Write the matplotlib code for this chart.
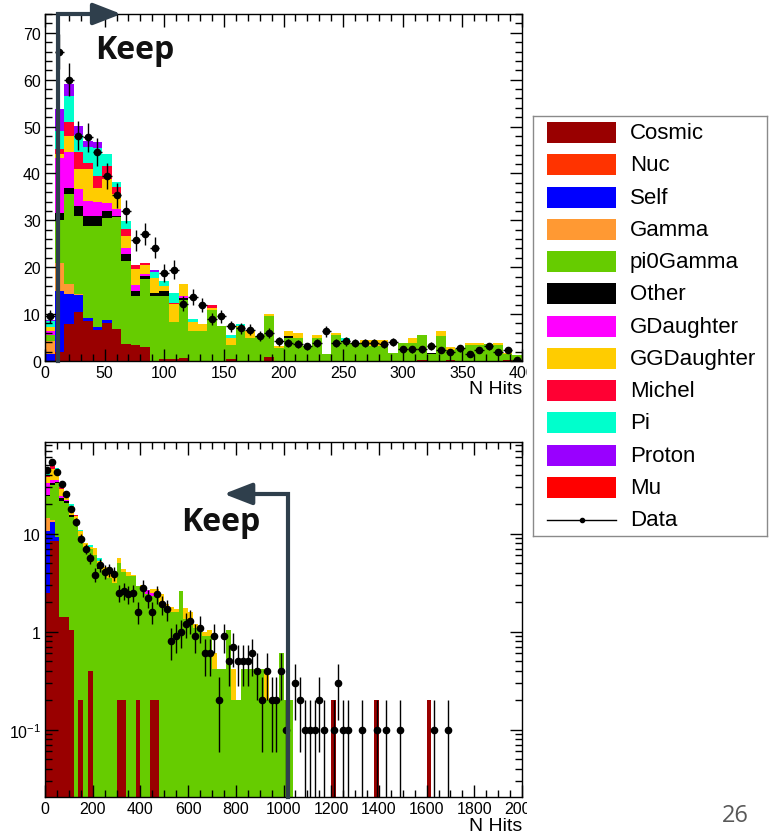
import numpy as np
import matplotlib
matplotlib.use("Agg")
import matplotlib.pyplot as plt
from matplotlib.patches import Rectangle
from matplotlib.ticker import MultipleLocator, FixedLocator, LogLocator, NullFormatter

plt.rcParams['font.family'] = ['Liberation Sans', 'DejaVu Sans']
plt.rcParams['mathtext.fontset'] = 'custom'
plt.rcParams['mathtext.rm'] = 'Liberation Sans'

names = ["Cosmic", "Nuc", "Self", "Gamma", "pi0Gamma", "Other", "GDaughter",
         "GGDaughter", "Michel", "Pi", "Proton", "Mu"]
colors = ["#990000", "#ff3300", "#0000ff", "#ff9933", "#66cc00", "#000000",
          "#ff00ff", "#ffcc00", "#ff0033", "#00ffcc", "#9900ff", "#ff0000"]

# ---- top panel: 50 bins of 8 hits (0-400) ----
nbin_top, w_top = 50, 8
cosmic_t = [0, 2, 7.9, 10.4, 8.6, 6.7, 8.2, 6.8, 3.6, 3.5, 3.0, 0, 0.4, 0.4, 0.7,
            0, 0, 0, 0, 0.4, 0, 0, 0, 0.85, 0, 0, 0, 0, 0, 0, 0, 0, 0, 0, 0,
            0, 0, 0, 0, 0.3, 0, 0, 0.3, 0, 0, 0, 0, 0, 0.3, 0]
nuc_t = []
self_t = [1.5, 13, 6.4, 3.6, 0.6, 0.5, 0.6]
gamma_t = [2.8, 6, 2.1, 0.3]
pi0_t = [1.2, 9, 19.2, 16.7, 19.6, 21.6, 21.8, 23.9, 17.8, 10.4,
         14.5, 13.9, 13.5, 8.0, 12.3, 6.5, 6.5, 10.9, 7.5, 3.0,
         7.2, 5.0, 5.3, 8.65, 2.8, 5.0, 4.9, 3.2, 5.0, 1.4,
         5.5, 4.0, 3.9, 3.9, 3.3, 3.3, 1.8, 3.9, 3.8, 5.2,
         1.5, 5.4, 2.1, 2.5, 3.5, 3.5, 3.6, 3.4, 1.2, 1.2]
other_t = [0, 1.5, 1.4, 2.1, 2.2, 2.2, 1.4, 0.3, 1.4, 1.1, 0.7, 0.7, 1.1, 0, 0.5,
           0, 0, 0, 0, 0, 0, 0, 0, 0, 0, 0.3, 0, 0, 0, 0, 0, 0.3, 0, 0, 0,
           0, 0, 0, 0, 0, 0.3]
gd_t = [0.8, 11.8, 7.5, 3.6, 3.2, 3.0, 1.8, 1.4, 1.4, 1.2, 0.3, 0, 0, 0, 0.4]
ggd_t = [1.0, 0.8, 3.5, 4.2, 6.7, 3.0, 5.0, 3.2, 2.4, 3.4,
         2.0, 3.1, 1.0, 3.7, 2.5, 1.9, 1.4, 0.5, 0, 1.5,
         0.2, 1.5, 0, 0.5, 0.5, 1.2, 1.1, 0, 0.5, 0,
         0.4, 0, 0, 0.5, 1.1, 1.1, 0, 0, 1.0, 0,
         0, 1.1, 0.5, 0, 0.4, 0.4, 0, 0.5, 0.3, 0]
michel_t = [0, 1.1, 2.9, 3.6, 1.4, 2.5, 2.8, 1.6, 1.5, 0.9, 0.4, 0, 0, 0.3, 0, 0, 0, 0.5]
pi_t = [1.2, 3.9, 5.7, 3.7, 3.3, 6.0, 2.5, 0.9, 1.8, 0, 0, 1.3, 1.1, 2.2, 0, 0.6,
        0, 0, 0, 0.6, 0.5, 0, 0, 0, 0, 0, 0, 0, 0, 0, 0, 0.7]
proton_t = [0.3, 4.6, 2.5, 2.0, 1.4, 1.1, 0, 0, 0, 0, 0, 0.5]
mu_t = []
data_t = [9.5, 66, 60, 48, 47.7, 44.5, 39.5, 35.3, 31.9, 25.7,
          27.1, 24.2, 18.8, 19.5, 12.2, 13.6, 11.9, 9.0, 9.5, 7.4,
          7.0, 6.7, 5.4, 6.0, 4.2, 3.9, 3.6, 3.1, 3.8, 6.3,
          3.9, 4.2, 3.8, 3.9, 3.8, 3.6, 4.1, 2.5, 2.5, 2.5,
          3.2, 2.3, 2.0, 2.7, 1.4, 2.3, 3.1, 1.9, 2.3, 0.3]

# ---- bottom panel: 100 bins of 20 hits (0-2000) ----
nbin_bot, w_bot = 100, 20
cosmic_b = [2.5, 8.5, 8.5, 1.4, 1.4, 1.05, 0, 0.2, 0, 0.4,
            0, 0, 0, 0, 0, 0.2, 0.2, 0, 0, 0.2,
            0, 0, 0.2, 0.2, 0, 0, 0, 0, 0, 0,
            0, 0, 0, 0, 0, 0, 0, 0, 0, 0,
            0, 0, 0, 0, 0, 0, 0, 0, 0, 0,
            0, 0, 0, 0, 0, 0, 0, 0, 0, 0,
            0.2, 0, 0, 0, 0, 0, 0, 0, 0, 0.2,
            0, 0, 0, 0, 0, 0, 0, 0, 0, 0,
            0.2]
nuc_b = []
self_b = [8.1, 4.5, 0.7]
gamma_b = [4.0, 0.9]
pi0_b = [9.4, 17.6, 23.8, 20.3, 19.2, 13.9, 13.0, 9.2, 6.9, 6.5,
         6.1, 4.4, 4.1, 3.5, 3.1, 4.8, 3.9, 3.7, 3.7, 2.7,
         2.9, 2.45, 2.1, 2.3, 2.0, 1.8, 1.6, 1.6, 2.6, 1.35,
         1.35, 1.1, 1.0, 0.9, 0.9, 0.42, 0.42, 0.42, 1.05, 0.2,
         0.2, 0.42, 0.42, 0.42, 0.42, 0.42, 0.2, 0.2, 0.2, 0.6,
         0.2, 0.2]
other_b = [0.5, 1.0, 1.0, 1.2, 0.8, 0.6, 0.3, 0, 0.2, 0, 0, 0.2]
gd_b = [8, 3, 1, 1.5, 0.6, 0, 0, 0, 0, 0, 0, 0, 0, 0, 0, 0, 0, 0, 0, 0, 0, 0.2, 0.2]
ggd_b = [5, 10, 8, 4, 2.8, 3.8, 2.0, 1.2, 0.9, 0.4,
         1.1, 0.7, 0.5, 0.5, 0.5, 0.7, 0.3, 0.4, 0.1, 0,
         0.1, 0, 0.2, 0.2, 0.4, 0.1, 0.2, 0.1, 0, 0.4,
         0.25, 0.1, 0, 0.1, 0.15, 0.18, 0, 0, 0, 0.22,
         0, 0, 0, 0, 0, 0, 0.22]
michel_b = [2.5, 4, 2, 1.2, 0.6, 0, 0.3]
pi_b = [4, 5, 2, 0.8, 0.5, 0.5, 0, 0.4, 0, 0.3, 0, 0.3, 0, 0, 0, 0, 0, 0, 0, 0,
        0, 0, 0, 0, 0, 0, 0, 0, 0, 0, 0, 0, 0.1]
proton_b = [3, 1.5]
mu_b = []
data_b = [45, 53.4, 43, 32.4, 25.6, 18, 13.2, 8.9, 7.0, 5.6,
          3.8, 4.8, 4.1, 4.3, 3.9, 2.5, 2.6, 2.4, 2.5, 1.6,
          2.8, 2.2, 1.6, 2.4, 1.9, 1.7, 0.8, 0.9, 1.0, 1.2,
          1.3, 0.9, 1.1, 0.6, 0.6, 0.9, 0.2, 0.9, 0.5, 0.7,
          0.5, 0.5, 0.5, 0.6, 0.4, 0.2, 0.4, 0.2, 0.2, 0.4,
          0.1, 0, 0.3, 0.2, 0.1, 0.1, 0.1, 0.2, 0.1, 0,
          0.1, 0.3, 0.1, 0.1, 0, 0, 0.1, 0, 0, 0.1,
          0, 0.1, 0, 0, 0.1, 0, 0, 0, 0, 0,
          0, 0.1, 0, 0, 0.1]

cut_top, cut_bot = 11, 1018
arrow_c = "#2f3f4c"


def pad(v, n):
    return np.array(list(v) + [0] * (n - len(v)), dtype=float)


def draw_panel(ax, comps, data, nb, w, scale, floor=0.0):
    edges = np.arange(nb + 1) * w
    cum = np.zeros(nb)
    for v, c in zip(comps, colors):
        v = pad(v, nb)
        top = cum + v
        ax.stairs(np.maximum(top, floor), edges, baseline=np.maximum(cum, floor),
                  fill=True, color=c, lw=0)
        cum = top
    d = pad(data, nb)
    x = edges[:-1] + w / 2
    m = d > 0
    ax.errorbar(x[m], d[m], yerr=np.sqrt(scale * d[m]), xerr=w / 2, fmt='o',
                ms=4.5, color='k', ecolor='k', elinewidth=1, capsize=0, zorder=5)


def style(ax):
    ax.tick_params(which='both', direction='in', top=True, right=True,
                   labelsize=11.5, width=1, pad=3)
    ax.tick_params(which='major', length=9)
    ax.tick_params(which='minor', length=5)
    for s in ax.spines.values():
        s.set_linewidth(1)


fig = plt.figure(figsize=(7.71, 8.37), dpi=100)
W, H = 771, 837

# top panel
ax1 = fig.add_axes([45 / W, 1 - 362 / H, 477 / W, 347 / H])
draw_panel(ax1, [cosmic_t, nuc_t, self_t, gamma_t, pi0_t, other_t, gd_t, ggd_t,
                 michel_t, pi_t, proton_t, mu_t], data_t, nbin_top, w_top, 0.2)
ax1.set_xlim(0, 400)
ax1.set_ylim(0, 74)
ax1.set_xticks(np.arange(0, 401, 50))
ax1.xaxis.set_minor_locator(MultipleLocator(10))
ax1.set_yticks(np.arange(0, 71, 10))
ax1.yaxis.set_minor_locator(MultipleLocator(2))
style(ax1)
ax1.set_xlabel("N Hits", fontsize=14, ha='right')
ax1.xaxis.set_label_coords(1.0, -0.055)
ax1.plot([cut_top, cut_top, 55], [0, 74, 74], color=arrow_c, lw=3,
         clip_on=False, zorder=6, solid_joinstyle='miter')
ax1.annotate('', xy=(64, 74), xytext=(40, 74),
             arrowprops=dict(arrowstyle='-|>,head_length=0.85,head_width=0.33',
                             color=arrow_c, lw=3, shrinkA=0, shrinkB=0,
                             mutation_scale=20), annotation_clip=False, zorder=6)
ax1.text(75, 66.5, "Keep", fontsize=23, fontweight='bold', family='Open Sans',
         ha='center', va='center', color='#111111')

# bottom panel
ax2 = fig.add_axes([45 / W, 1 - 798 / H, 477 / W, 355 / H])
ax2.set_yscale('log')
draw_panel(ax2, [cosmic_b, nuc_b, self_b, gamma_b, pi0_b, other_b, gd_b, ggd_b,
                 michel_b, pi_b, proton_b, mu_b], data_b, nbin_bot, w_bot, 0.1,
           floor=1e-3)
ax2.set_xlim(0, 2000)
ax2.set_ylim(0.0206, 86)
ax2.set_xticks(np.arange(0, 2001, 200))
ax2.xaxis.set_minor_locator(MultipleLocator(50))
ax2.yaxis.set_major_locator(FixedLocator([0.1, 1, 10]))
ax2.set_yticklabels([r"$10^{-1}$", "1", "10"])
ax2.yaxis.set_minor_locator(LogLocator(base=10, subs=np.arange(2, 10)))
ax2.yaxis.set_minor_formatter(NullFormatter())
style(ax2)
ax2.set_xlabel("N Hits", fontsize=14, ha='right')
ax2.xaxis.set_label_coords(1.0, -0.055)
ax2.plot([cut_bot, cut_bot, 800], [0.0206, 25.4, 25.4], color=arrow_c, lw=3,
         clip_on=False, zorder=6, solid_joinstyle='miter')
ax2.annotate('', xy=(750, 25.4), xytext=(850, 25.4),
             arrowprops=dict(arrowstyle='-|>,head_length=0.85,head_width=0.33',
                             color=arrow_c, lw=3, shrinkA=0, shrinkB=0,
                             mutation_scale=20), annotation_clip=False, zorder=6)
ax2.text(736, 13.2, "Keep", fontsize=23, fontweight='bold', family='Open Sans',
         ha='center', va='center', color='#111111')

# white strip covering the cropped right edge of the panels
fig.patches.append(Rectangle((527 / W, 0), 1 - 527 / W, 1, transform=fig.transFigure,
                             facecolor='white', edgecolor='none', zorder=3))

# legend box
axl = fig.add_axes([533 / W, 1 - 537 / H, 234 / W, 420 / H], zorder=4)
axl.set_xlim(0, 234)
axl.set_ylim(420, 0)
axl.set_xticks([])
axl.set_yticks([])
for s in axl.spines.values():
    s.set_color('#8a8a8a')
    s.set_linewidth(1)
for i, (nm, c) in enumerate(zip(names, colors)):
    yc = 16.7 + i * 32.25
    axl.add_patch(Rectangle((14, yc - 10.5), 69, 21, facecolor=c, edgecolor='none'))
    axl.text(97, yc, nm, fontsize=16, va='center', ha='left')
yc = 16.7 + 12 * 32.25
axl.plot([14, 83], [yc, yc], color='k', lw=1)
axl.plot([48.5], [yc], 'o', color='k', ms=3)
axl.text(97, yc, "Data", fontsize=16, va='center', ha='left')

fig.text(735 / W, 1 - 816 / H, "26", fontsize=17, color='#595959', ha='center',
         va='center', family='Open Sans', zorder=5)

fig.savefig("out.png", dpi=100)
